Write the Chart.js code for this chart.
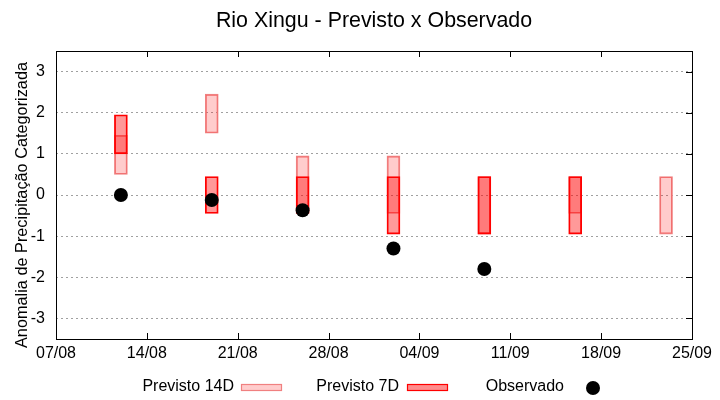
<!DOCTYPE html>
<html>
<head>
<meta charset="utf-8">
<script src="https://cdn.jsdelivr.net/npm/chart.js@4"></script>
<style>
  html, body { margin: 0; padding: 0; background: #fff; }
  #wrap { width: 720px; height: 400px; }
</style>
</head>
<body>
<div id="wrap"><canvas id="myChart"></canvas></div>
<script>
// days counted from 07/08
const tickDays = [0, 7, 14, 21, 28, 35, 42, 49];
const tickLabels = ['07/08', '14/08', '21/08', '28/08', '04/09', '11/09', '18/09', '25/09'];
const yTicks = [-3, -2, -1, 0, 1, 2, 3];

// forecast weeks: 12/08, 19/08, 26/08, 02/09, 09/09, 16/09, 23/09
const weekDays = [5, 12, 19, 26, 33, 40, 47];
const prev14Low = [0.5, 1.5, -0.45, -0.45, -0.95, -0.45, -0.95];
const prev14High = [1.45, 2.45, 0.95, 0.95, 0.45, 0.45, 0.45];
const prev7Low = [1.0, -0.45, -0.45, -0.95, -0.95, -0.95, null];
const prev7High = [1.95, 0.45, 0.45, 0.45, 0.45, 0.45, null];
const observed = [0, -0.12, -0.37, -1.3, -1.8, null, null];

const chartTitle = 'Rio Xingu - Previsto x Observado';
const yTitle = 'Anomalia de Precipitação Categorizada';

function toBars(lo, hi) {
  var out = [];
  for (var i = 0; i < weekDays.length; i++) {
    if (lo[i] == null) continue;
    out.push({ x: weekDays[i], y: [lo[i], hi[i]] });
  }
  return out;
}
function toPoints(v) {
  var out = [];
  for (var i = 0; i < weekDays.length; i++) {
    if (v[i] == null) continue;
    out.push({ x: weekDays[i], y: v[i] });
  }
  return out;
}

const FONT = 'Liberation Sans, Arial, sans-serif';

// titles, frame, mirrored ticks and the gnuplot-like legend under the axis
const framePlugin = {
  id: 'frame',
  afterDraw(chart) {
    const ctx = chart.ctx;
    const a = chart.chartArea;
    const xs = chart.scales.x, ys = chart.scales.y;
    ctx.save();

    ctx.font = '21.4px ' + FONT;
    ctx.fillStyle = '#000';
    ctx.textAlign = 'center';
    ctx.textBaseline = 'alphabetic';
    ctx.fillText(chartTitle, (a.left + a.right) / 2, 27);

    ctx.save();
    ctx.translate(27, 205);
    ctx.rotate(-Math.PI / 2);
    ctx.font = '16.3px ' + FONT;
    ctx.fillText(yTitle, 0, 0);
    ctx.restore();

    ctx.strokeStyle = '#000';
    ctx.lineWidth = 1;
    ctx.strokeRect(Math.round(a.left) + 0.5, Math.round(a.top) + 0.5,
      Math.round(a.right - a.left), Math.round(a.bottom - a.top));
    ctx.beginPath();
    tickDays.forEach(function(d, i) {
      if (i == 0 || i == tickDays.length - 1) return;
      var px = Math.round(xs.getPixelForValue(d)) + 0.5;
      ctx.moveTo(px, a.top); ctx.lineTo(px, a.top + 6);
      ctx.moveTo(px, a.bottom); ctx.lineTo(px, a.bottom - 6);
    });
    yTicks.forEach(function(v) {
      var py = Math.round(ys.getPixelForValue(v)) + 0.5;
      ctx.moveTo(a.right, py); ctx.lineTo(a.right - 6, py);
    });
    ctx.stroke();

    // legend
    ctx.font = '16px ' + FONT;
    ctx.textAlign = 'right';
    ctx.textBaseline = 'middle';
    var ly = 387;
    ctx.fillText('Previsto 14D', 234, ly);
    ctx.fillText('Previsto 7D', 399, ly);
    ctx.fillText('Observado', 564, ly);

    ctx.fillStyle = 'rgba(255,0,0,0.2)';
    ctx.fillRect(241.5, 384.5, 40, 6);
    ctx.strokeStyle = '#f08080';
    ctx.lineWidth = 1.2;
    ctx.strokeRect(241.5, 384.5, 40, 6);

    ctx.fillStyle = 'rgba(255,0,0,0.45)';
    ctx.fillRect(407.5, 384.5, 40, 6);
    ctx.strokeStyle = '#ff0000';
    ctx.lineWidth = 1.2;
    ctx.strokeRect(407.5, 384.5, 40, 6);

    ctx.fillStyle = '#000';
    ctx.beginPath();
    ctx.arc(593, 388, 7, 0, Math.PI * 2);
    ctx.fill();
    ctx.restore();
  }
};

new Chart(document.getElementById('myChart'), {
  type: 'bar',
  data: {
    datasets: [{
      type: 'scatter',
      label: 'Observado',
      data: toPoints(observed),
      backgroundColor: '#000',
      borderWidth: 0,
      pointRadius: 7,
      order: 1
    }, {
      label: 'Previsto 7D',
      data: toBars(prev7Low, prev7High),
      backgroundColor: 'rgba(255,0,0,0.4)',
      borderColor: '#ff0000',
      borderWidth: 1.2,
      borderSkipped: false,
      barThickness: 13,
      grouped: false,
      order: 2
    }, {
      label: 'Previsto 14D',
      data: toBars(prev14Low, prev14High),
      backgroundColor: 'rgba(255,0,0,0.2)',
      borderColor: '#f08080',
      borderWidth: 1.2,
      borderSkipped: false,
      barThickness: 13,
      grouped: false,
      order: 3
    }]
  },
  options: {
    responsive: true,
    maintainAspectRatio: false,
    animation: false,
    events: [],
    layout: { padding: { left: 0, right: 28, top: 51, bottom: 0 } },
    plugins: {
      legend: { display: false },
      tooltip: { enabled: false },
      title: { display: false }
    },
    scales: {
      x: {
        type: 'linear',
        min: 0,
        max: 49,
        offset: false,
        afterBuildTicks: function(s) { s.ticks = tickDays.map(function(d) { return { value: d }; }); },
        afterFit: function(s) { s.height = 61; },
        grid: { display: false, offset: false, drawTicks: false },
        border: { display: false },
        ticks: {
          color: '#000',
          padding: 5,
          maxRotation: 0,
          autoSkip: false,
          font: { family: FONT, size: 16 },
          callback: function(v) { return tickLabels[tickDays.indexOf(v)]; }
        }
      },
      y: {
        min: -3.5,
        max: 3.5,
        afterBuildTicks: function(s) { s.ticks = yTicks.map(function(v) { return { value: v }; }); },
        afterFit: function(s) { s.width = 56; },
        grid: { color: '#a0a0a0', lineWidth: 1, drawTicks: false },
        border: { display: false, dash: [2, 3] },
        ticks: {
          color: '#000',
          padding: 11,
          font: { family: FONT, size: 16 }
        },
        title: { display: false }
      }
    }
  },
  plugins: [framePlugin]
});
</script>
</body>
</html>
